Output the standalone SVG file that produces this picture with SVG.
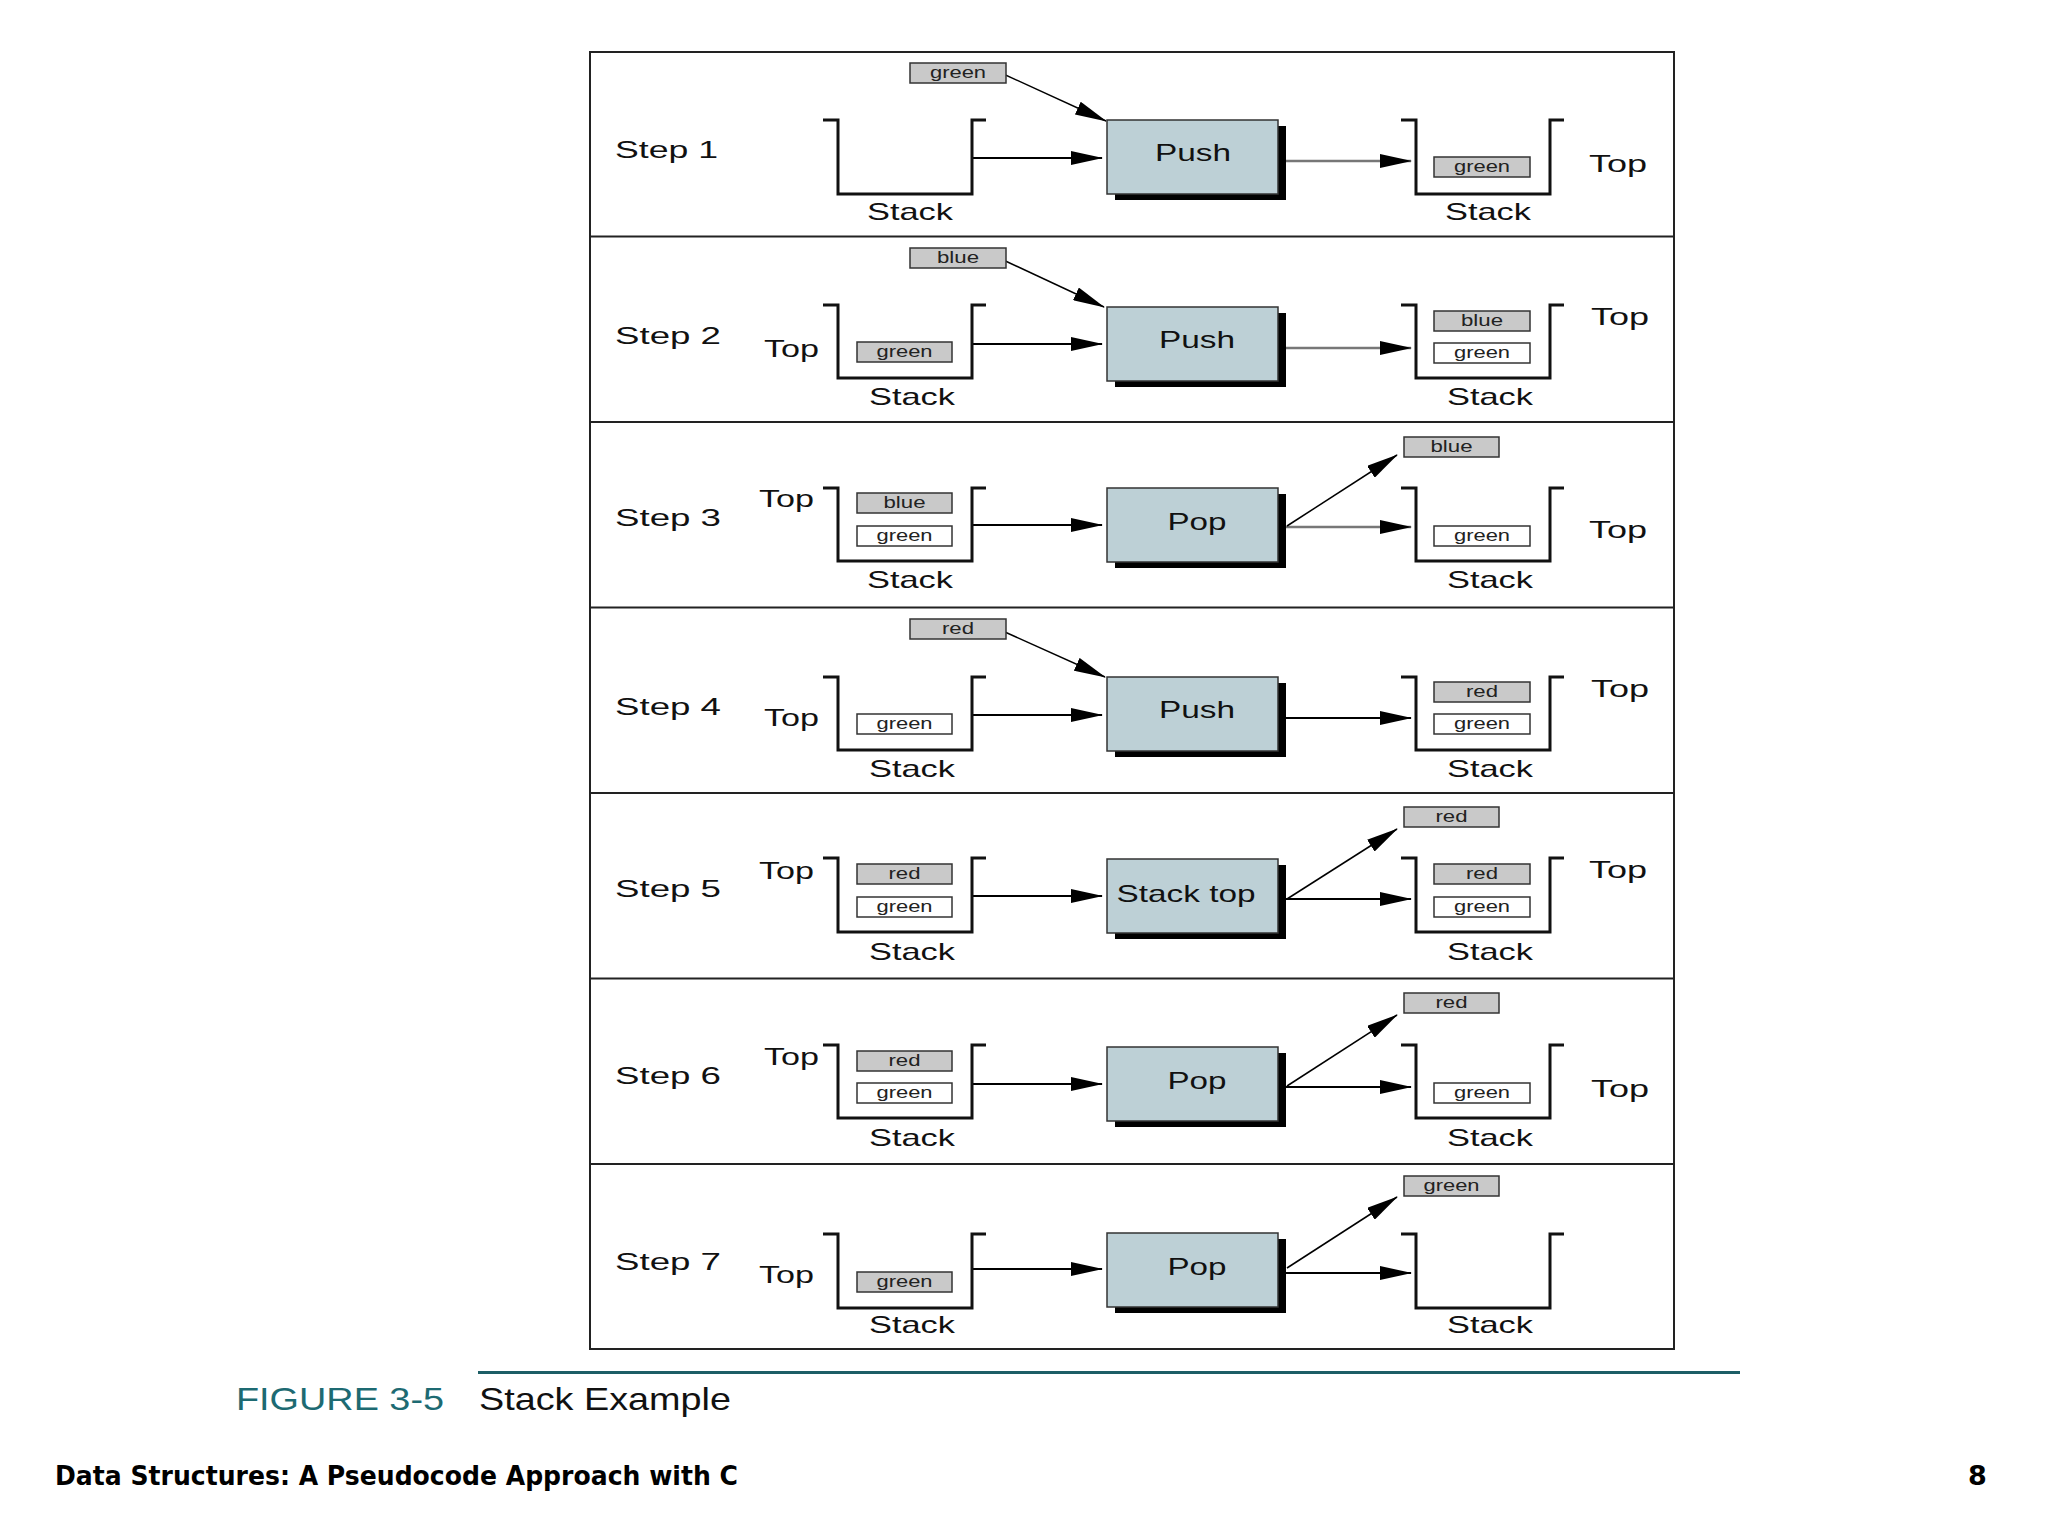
<svg xmlns="http://www.w3.org/2000/svg" width="2048" height="1536" viewBox="0 0 2048 1536">
<style>
.t{font-family:"Liberation Sans",Arial,sans-serif;font-size:24px;fill:#111}
.s{font-family:"Liberation Sans",Arial,sans-serif;font-size:17px;fill:#222;text-anchor:middle}
.m{text-anchor:middle}
.stk{fill:none;stroke:#111;stroke-width:3}
.op{fill:#bdd0d6;stroke:#333;stroke-width:1.5}
.sh{fill:#000}
.ig{fill:#c9c9c9;stroke:#333;stroke-width:1.5}
.iw{fill:#fff;stroke:#333;stroke-width:1.5}
.ar{stroke:#000;stroke-width:2;fill:none;marker-end:url(#ah)}
.arg{stroke:#777;stroke-width:2.5;fill:none;marker-end:url(#ah)}
.ad{stroke:#000;stroke-width:1.5;fill:none;marker-end:url(#ah)}
.fr{fill:none;stroke:#222;stroke-width:2}
</style>
<defs>
<marker id="ah" markerUnits="userSpaceOnUse" markerWidth="32" markerHeight="14" refX="31" refY="7" orient="auto"><path d="M0,0 L32,7 L0,14 z" fill="#000"/></marker>
</defs>
<rect width="2048" height="1536" fill="#fff"/>
<g id="frame">
<rect class="fr" x="590" y="52" width="1084" height="1297"/>
<path class="fr" d="M590,236.5H1674M590,422H1674M590,607.5H1674M590,793H1674M590,978.5H1674M590,1164H1674"/>
</g>
<g id="connectors">
<path class="ar" d="M972,158H1102"/><path class="arg" d="M1286,161H1411"/><path class="ad" d="M999,72L1106,121"/>
<path class="ar" d="M972,344H1102"/><path class="arg" d="M1286,348H1411"/><path class="ad" d="M999,258L1104,307"/>
<path class="ar" d="M972,525H1102"/><path class="arg" d="M1286,527H1411"/><path class="ad" d="M1287,526L1397,455"/>
<path class="ar" d="M972,715H1102"/><path class="ar" d="M1286,718H1411"/><path class="ad" d="M996,628L1105,677"/>
<path class="ar" d="M972,896H1102"/><path class="ar" d="M1286,899H1411"/><path class="ad" d="M1287,899L1397,829"/>
<path class="ar" d="M972,1084H1102"/><path class="ar" d="M1286,1087H1411"/><path class="ad" d="M1287,1086L1397,1015"/>
<path class="ar" d="M972,1269H1102"/><path class="ar" d="M1286,1273H1411"/><path class="ad" d="M1287,1268L1397,1197"/>
</g>

<g id="step1">
<text class="t" x="615" y="158" textLength="103" lengthAdjust="spacingAndGlyphs">Step 1</text>
<g id="s1-in"><path class="stk" d="M823,120H838V194H972V120H986"/><text class="t m" x="910" y="220" textLength="86" lengthAdjust="spacingAndGlyphs">Stack</text></g>
<g id="s1-item"><rect class="ig" x="910" y="63" width="96" height="20"/><text class="s" x="958" y="78" textLength="56" lengthAdjust="spacingAndGlyphs">green</text></g>
<g id="s1-op"><rect class="sh" x="1115" y="126" width="171" height="74"/><rect class="op" x="1107" y="120" width="171" height="74"/><text class="t m" x="1193" y="161" textLength="76" lengthAdjust="spacingAndGlyphs">Push</text></g>
<g id="s1-out"><path class="stk" d="M1401,120H1416V194H1550V120H1564"/><rect class="ig" x="1434" y="157" width="96" height="20"/><text class="s" x="1482" y="172" textLength="56" lengthAdjust="spacingAndGlyphs">green</text><text class="t m" x="1488" y="220" textLength="86" lengthAdjust="spacingAndGlyphs">Stack</text><text class="t" x="1589" y="172" textLength="58" lengthAdjust="spacingAndGlyphs">Top</text></g>
</g>

<g id="step2">
<text class="t" x="615" y="344" textLength="106" lengthAdjust="spacingAndGlyphs">Step 2</text>
<g id="s2-in"><path class="stk" d="M823,305H838V378H972V305H986"/><text class="t" x="764" y="357" textLength="55" lengthAdjust="spacingAndGlyphs">Top</text><rect class="ig" x="857" y="342" width="95" height="20"/><text class="s" x="904.5" y="357" textLength="56" lengthAdjust="spacingAndGlyphs">green</text><text class="t m" x="912" y="405" textLength="86" lengthAdjust="spacingAndGlyphs">Stack</text></g>
<g id="s2-item"><rect class="ig" x="910" y="248" width="96" height="20"/><text class="s" x="958" y="263" textLength="42" lengthAdjust="spacingAndGlyphs">blue</text></g>
<g id="s2-op"><rect class="sh" x="1115" y="313" width="171" height="74"/><rect class="op" x="1107" y="307" width="171" height="74"/><text class="t m" x="1197" y="348" textLength="76" lengthAdjust="spacingAndGlyphs">Push</text></g>
<g id="s2-out"><path class="stk" d="M1401,305H1416V378H1550V305H1564"/><rect class="ig" x="1434" y="311" width="96" height="20"/><text class="s" x="1482" y="326" textLength="42" lengthAdjust="spacingAndGlyphs">blue</text><rect class="iw" x="1434" y="343" width="96" height="20"/><text class="s" x="1482" y="358" textLength="56" lengthAdjust="spacingAndGlyphs">green</text><text class="t m" x="1490" y="405" textLength="86" lengthAdjust="spacingAndGlyphs">Stack</text><text class="t" x="1591" y="325" textLength="58" lengthAdjust="spacingAndGlyphs">Top</text></g>
</g>

<g id="step3">
<text class="t" x="615" y="526" textLength="106" lengthAdjust="spacingAndGlyphs">Step 3</text>
<g id="s3-in"><path class="stk" d="M823,488H838V561H972V488H986"/><text class="t" x="759" y="507" textLength="55" lengthAdjust="spacingAndGlyphs">Top</text><rect class="ig" x="857" y="493" width="95" height="20"/><text class="s" x="904.5" y="508" textLength="42" lengthAdjust="spacingAndGlyphs">blue</text><rect class="iw" x="857" y="526" width="95" height="20"/><text class="s" x="904.5" y="541" textLength="56" lengthAdjust="spacingAndGlyphs">green</text><text class="t m" x="910" y="588" textLength="86" lengthAdjust="spacingAndGlyphs">Stack</text></g>
<g id="s3-op"><rect class="sh" x="1115" y="494" width="171" height="74"/><rect class="op" x="1107" y="488" width="171" height="74"/><text class="t m" x="1197" y="530" textLength="59" lengthAdjust="spacingAndGlyphs">Pop</text></g>
<g id="s3-item"><rect class="ig" x="1404" y="437" width="95" height="20"/><text class="s" x="1451.5" y="452" textLength="42" lengthAdjust="spacingAndGlyphs">blue</text></g>
<g id="s3-out"><path class="stk" d="M1401,488H1416V561H1550V488H1564"/><rect class="iw" x="1434" y="526" width="96" height="20"/><text class="s" x="1482" y="541" textLength="56" lengthAdjust="spacingAndGlyphs">green</text><text class="t m" x="1490" y="588" textLength="86" lengthAdjust="spacingAndGlyphs">Stack</text><text class="t" x="1589" y="538" textLength="58" lengthAdjust="spacingAndGlyphs">Top</text></g>
</g>

<g id="step4">
<text class="t" x="615" y="715" textLength="106" lengthAdjust="spacingAndGlyphs">Step 4</text>
<g id="s4-in"><path class="stk" d="M823,677H838V750H972V677H986"/><text class="t" x="764" y="726" textLength="55" lengthAdjust="spacingAndGlyphs">Top</text><rect class="iw" x="857" y="714" width="95" height="20"/><text class="s" x="904.5" y="729" textLength="56" lengthAdjust="spacingAndGlyphs">green</text><text class="t m" x="912" y="777" textLength="86" lengthAdjust="spacingAndGlyphs">Stack</text></g>
<g id="s4-item"><rect class="ig" x="910" y="619" width="96" height="20"/><text class="s" x="958" y="634" textLength="32" lengthAdjust="spacingAndGlyphs">red</text></g>
<g id="s4-op"><rect class="sh" x="1115" y="683" width="171" height="74"/><rect class="op" x="1107" y="677" width="171" height="74"/><text class="t m" x="1197" y="718" textLength="76" lengthAdjust="spacingAndGlyphs">Push</text></g>
<g id="s4-out"><path class="stk" d="M1401,677H1416V750H1550V677H1564"/><rect class="ig" x="1434" y="682" width="96" height="20"/><text class="s" x="1482" y="697" textLength="32" lengthAdjust="spacingAndGlyphs">red</text><rect class="iw" x="1434" y="714" width="96" height="20"/><text class="s" x="1482" y="729" textLength="56" lengthAdjust="spacingAndGlyphs">green</text><text class="t m" x="1490" y="777" textLength="86" lengthAdjust="spacingAndGlyphs">Stack</text><text class="t" x="1591" y="697" textLength="58" lengthAdjust="spacingAndGlyphs">Top</text></g>
</g>

<g id="step5">
<text class="t" x="615" y="897" textLength="106" lengthAdjust="spacingAndGlyphs">Step 5</text>
<g id="s5-in"><path class="stk" d="M823,858H838V932H972V858H986"/><text class="t" x="759" y="879" textLength="55" lengthAdjust="spacingAndGlyphs">Top</text><rect class="ig" x="857" y="864" width="95" height="20"/><text class="s" x="904.5" y="879" textLength="32" lengthAdjust="spacingAndGlyphs">red</text><rect class="iw" x="857" y="897" width="95" height="20"/><text class="s" x="904.5" y="912" textLength="56" lengthAdjust="spacingAndGlyphs">green</text><text class="t m" x="912" y="960" textLength="86" lengthAdjust="spacingAndGlyphs">Stack</text></g>
<g id="s5-op"><rect class="sh" x="1115" y="865" width="171" height="74"/><rect class="op" x="1107" y="859" width="171" height="74"/><text class="t m" x="1186" y="902" textLength="139" lengthAdjust="spacingAndGlyphs">Stack top</text></g>
<g id="s5-item"><rect class="ig" x="1404" y="807" width="95" height="20"/><text class="s" x="1451.5" y="822" textLength="32" lengthAdjust="spacingAndGlyphs">red</text></g>
<g id="s5-out"><path class="stk" d="M1401,858H1416V932H1550V858H1564"/><rect class="ig" x="1434" y="864" width="96" height="20"/><text class="s" x="1482" y="879" textLength="32" lengthAdjust="spacingAndGlyphs">red</text><rect class="iw" x="1434" y="897" width="96" height="20"/><text class="s" x="1482" y="912" textLength="56" lengthAdjust="spacingAndGlyphs">green</text><text class="t m" x="1490" y="960" textLength="86" lengthAdjust="spacingAndGlyphs">Stack</text><text class="t" x="1589" y="878" textLength="58" lengthAdjust="spacingAndGlyphs">Top</text></g>
</g>

<g id="step6">
<text class="t" x="615" y="1084" textLength="106" lengthAdjust="spacingAndGlyphs">Step 6</text>
<g id="s6-in"><path class="stk" d="M823,1045H838V1118H972V1045H986"/><text class="t" x="764" y="1065" textLength="55" lengthAdjust="spacingAndGlyphs">Top</text><rect class="ig" x="857" y="1051" width="95" height="20"/><text class="s" x="904.5" y="1066" textLength="32" lengthAdjust="spacingAndGlyphs">red</text><rect class="iw" x="857" y="1083" width="95" height="20"/><text class="s" x="904.5" y="1098" textLength="56" lengthAdjust="spacingAndGlyphs">green</text><text class="t m" x="912" y="1146" textLength="86" lengthAdjust="spacingAndGlyphs">Stack</text></g>
<g id="s6-op"><rect class="sh" x="1115" y="1053" width="171" height="74"/><rect class="op" x="1107" y="1047" width="171" height="74"/><text class="t m" x="1197" y="1089" textLength="59" lengthAdjust="spacingAndGlyphs">Pop</text></g>
<g id="s6-item"><rect class="ig" x="1404" y="993" width="95" height="20"/><text class="s" x="1451.5" y="1008" textLength="32" lengthAdjust="spacingAndGlyphs">red</text></g>
<g id="s6-out"><path class="stk" d="M1401,1045H1416V1118H1550V1045H1564"/><rect class="iw" x="1434" y="1083" width="96" height="20"/><text class="s" x="1482" y="1098" textLength="56" lengthAdjust="spacingAndGlyphs">green</text><text class="t m" x="1490" y="1146" textLength="86" lengthAdjust="spacingAndGlyphs">Stack</text><text class="t" x="1591" y="1097" textLength="58" lengthAdjust="spacingAndGlyphs">Top</text></g>
</g>

<g id="step7">
<text class="t" x="615" y="1270" textLength="106" lengthAdjust="spacingAndGlyphs">Step 7</text>
<g id="s7-in"><path class="stk" d="M823,1234H838V1308H972V1234H986"/><text class="t" x="759" y="1283" textLength="55" lengthAdjust="spacingAndGlyphs">Top</text><rect class="ig" x="857" y="1272" width="95" height="20"/><text class="s" x="904.5" y="1287" textLength="56" lengthAdjust="spacingAndGlyphs">green</text><text class="t m" x="912" y="1333" textLength="86" lengthAdjust="spacingAndGlyphs">Stack</text></g>
<g id="s7-op"><rect class="sh" x="1115" y="1239" width="171" height="74"/><rect class="op" x="1107" y="1233" width="171" height="74"/><text class="t m" x="1197" y="1275" textLength="59" lengthAdjust="spacingAndGlyphs">Pop</text></g>
<g id="s7-item"><rect class="ig" x="1404" y="1176" width="95" height="20"/><text class="s" x="1451.5" y="1191" textLength="56" lengthAdjust="spacingAndGlyphs">green</text></g>
<g id="s7-out"><path class="stk" d="M1401,1234H1416V1308H1550V1234H1564"/><text class="t m" x="1490" y="1333" textLength="86" lengthAdjust="spacingAndGlyphs">Stack</text></g>
</g>

<g id="caption">
<path d="M478,1372.5H1740" stroke="#1d5e66" stroke-width="3"/>
<text x="236" y="1410" font-family="'Liberation Sans',Arial,sans-serif" font-size="32" fill="#1d6a72" textLength="208" lengthAdjust="spacingAndGlyphs">FIGURE 3-5</text>
<text x="479" y="1410" font-family="'Liberation Sans',Arial,sans-serif" font-size="32" fill="#111" textLength="252" lengthAdjust="spacingAndGlyphs">Stack Example</text>
</g>
<g id="footer">
<text x="55" y="1485" font-family="'DejaVu Sans',Verdana,sans-serif" font-weight="bold" font-size="27" fill="#000" textLength="683" lengthAdjust="spacingAndGlyphs">Data Structures: A Pseudocode Approach with C</text>
<text x="1968" y="1485" font-family="'DejaVu Sans',Verdana,sans-serif" font-weight="bold" font-size="27" fill="#000">8</text>
</g>
</svg>
